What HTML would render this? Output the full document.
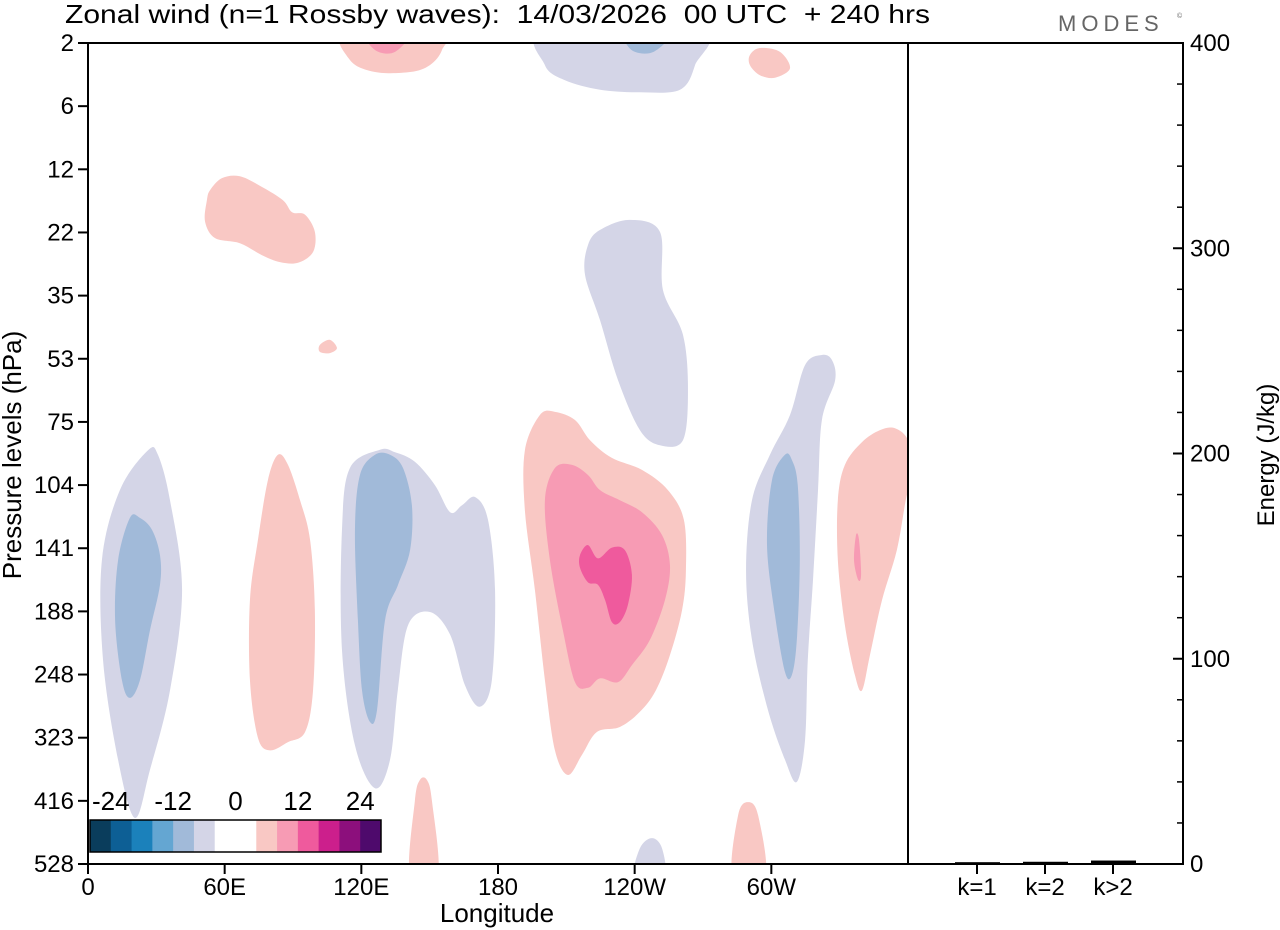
<!DOCTYPE html>
<html><head><meta charset="utf-8"><style>
html,body{margin:0;padding:0;background:#fff;}
svg{display:block;font-family:"Liberation Sans",Arial,sans-serif;}
text{white-space:pre;}
</style></head><body>
<svg id="chart" width="1280" height="930" viewBox="0 0 1280 930">
<defs><clipPath id="plotclip"><rect x="88" y="43" width="820" height="821"/></clipPath></defs>
<text x="65" y="23" font-size="26" textLength="865" lengthAdjust="spacingAndGlyphs" xml:space="preserve">Zonal wind (n=1 Rossby waves):  14/03/2026  00 UTC  + 240 hrs</text>
<text x="1058" y="31" font-size="22" fill="#666" letter-spacing="5">MODES</text>
<text x="1177" y="18" font-size="7" fill="#666">©</text>
<g id="field" clip-path="url(#plotclip)"></g>
<g id="axes"></g>
<g id="cbar"></g>
<g id="energy"></g>
</svg>
<script>
const levels=["2","6","12","22","35","53","75","104","141","188","248","323","416","528"];
const lonTicks=[0,60,120,180,240,300];
const lonLabels=["0","60E","120E","180","120W","60W"];
const energyCats=["k=1","k=2","k>2"];
const energyVals=[0.4,0.6,1.2];
const energyTicks=[0,100,200,300,400];
const cbarColors=["#0a3d5c","#0d5f95","#1b81bb","#64a6d2","#a1bad9","#d4d5e7","#ffffff","#ffffff","#f9c8c4","#f79bb4","#ef5a9d","#cc1f8c","#8c0f7c","#4e0a6c"];
const cbarLabels=["-24","-12","0","12","24"];
const lavender="#d4d5e7",blue="#a1bad9",pink1="#f9c8c4",pink2="#f79bb4",pink3="#ef5a9d";
const blobs=[
[lavender,[[26.3,6.45],[14,7.08],[6.1,8.19],[6.6,9.77],[13.2,11.35],[20.6,12.27],[27.2,11.51],[36,10.25],[41.3,8.66],[36,7.24],[30.7,6.52]]],
[lavender,[[128.2,6.44],[115,6.73],[111.5,7.71],[111.5,9.61],[117.2,11.12],[126,11.8],[132.6,11.35],[136,10.25],[140.5,9.22],[150.1,9.01],[159,9.37],[165.5,10.17],[172,10.51],[177.3,10.09],[178.7,8.66],[175.6,7.55],[170,7.19],[164.2,7.32],[159,7.43],[152.3,7.0],[143.5,6.63],[134.8,6.48]]],
[lavender,[[224.8,2.96],[237.9,2.8],[251.1,2.99],[252.4,3.91],[261.2,4.62],[263.4,5.49],[261.2,6.29],[251.1,6.37],[242.3,6.13],[232.7,5.34],[224.8,4.39],[218.2,3.67],[219.5,3.2]]],
[lavender,[[322.2,4.94],[314.8,5.1],[308.2,5.89],[299.4,6.52],[291.5,7.24],[288.9,8.35],[291.5,9.45],[298.5,10.56],[306,11.35],[311.2,11.7],[314.8,11.04],[316,9.77],[318.3,8.5],[320.5,7.08],[322.2,5.97],[328,5.34],[326.6,5.02]]],
[lavender,[[201,-0.2],[200.6,0.35],[209.4,0.59],[224.8,0.74],[242.3,0.78],[259.9,0.74],[266.5,0.35],[268.7,-0.2]]],
[lavender,[[240.1,13.2],[242.3,12.75],[247.6,12.59],[252,12.75],[252.8,13.2]]],
[blue,[[18.4,7.52],[13.2,8.19],[11.9,9.14],[14.9,10.09],[18.4,10.37],[22.8,10.09],[27.2,9.3],[31.6,8.58],[31.6,8.11],[28.1,7.71],[22.8,7.52]]],
[blue,[[126,6.52],[119.4,6.84],[117.2,7.71],[118.5,9.14],[120.3,10.25],[123.8,10.75],[126.9,10.56],[130.4,9.14],[136.1,8.58],[141.4,8.03],[142.2,7.32],[138.3,6.73],[132.6,6.52]]],
[blue,[[235.9,-0.2],[238.6,0.11],[248.3,0.14],[256.2,-0.2]]],
[blue,[[306,6.52],[300.3,6.92],[298.1,7.95],[301.6,9.06],[306,9.96],[309,10.01],[311.2,9.45],[312.5,8.19],[311.6,7.0],[309,6.6]]],
[pink1,[[112.8,-0.2],[115,0.27],[126,0.46],[141.4,0.46],[150.1,0.35],[155.4,0.11],[155.4,-0.2]]],
[pink2,[[121.6,-0.2],[126,0.11],[134.8,0.14],[141.4,-0.2]]],
[pink1,[[53.6,2.33],[58.8,2.14],[66.7,2.11],[76.4,2.28],[85.6,2.49],[89.6,2.68],[95.3,2.72],[99.6,2.99],[98.8,3.31],[92.2,3.48],[84.3,3.47],[76.4,3.36],[66.7,3.17],[55.8,3.09],[51.4,2.83],[52.2,2.49]]],
[pink1,[[101.8,4.78],[106.2,4.7],[109.3,4.83],[106.2,4.91],[101.8,4.89]]],
[pink1,[[290.6,0.19],[295,0.08],[303.8,0.14],[308.2,0.4],[301.6,0.55],[295,0.51],[290.6,0.35]]],
[pink1,[[83.4,6.52],[79,6.92],[74.6,7.87],[71.1,8.82],[71.1,10.09],[74.6,11.0],[79.9,11.2],[87.8,11.07],[95.3,10.91],[98.8,10.25],[99.6,8.98],[97.5,7.87],[93.1,7.24],[87.8,6.68]]],
[pink1,[[198.4,5.89],[191.8,6.45],[191.8,7.4],[196.2,8.66],[200.6,10.09],[205,11.2],[210.7,11.59],[216.9,11.27],[223.4,10.91],[233.5,10.83],[242.3,10.59],[249.3,10.25],[255.5,9.69],[260.8,8.98],[262.5,8.35],[261.6,7.55],[254.6,7.08],[243.2,6.76],[230,6.57],[220.4,6.29],[213.8,5.97],[205,5.84]]],
[pink1,[[347.7,6.13],[339.8,6.32],[332.3,6.68],[329.2,7.24],[329.2,8.19],[332.3,9.22],[336.7,10.01],[339.8,10.25],[343.3,9.69],[348.6,8.82],[355.1,8.03],[359,7.24],[362,6.76],[360,6.29],[354.3,6.1]]],
[pink1,[[141.4,13.2],[143.5,12.0],[145.7,11.67],[148.8,11.67],[151,12.0],[153.6,13.2]]],
[pink1,[[283.1,13.2],[285.4,12.23],[289.8,12.02],[294.2,12.23],[297.3,13.2]]],
[pink2,[[205,6.73],[200.6,7.24],[202.8,8.19],[208.5,9.3],[213.8,10.12],[219.5,10.21],[224.8,10.06],[232.7,10.12],[238.8,9.85],[246.7,9.45],[253.3,8.82],[255.5,8.27],[252,7.79],[243.2,7.43],[233.5,7.24],[224.8,7.08],[219.5,6.84],[212.5,6.68]]],
[pink3,[[216,8.11],[219.5,7.95],[223.9,8.16],[230,7.99],[235.7,8.03],[238.8,8.42],[237,8.9],[233.5,9.17],[230,9.17],[227,8.82],[223.9,8.58],[219.5,8.54],[216,8.31]]],
[pink2,[[337.2,7.79],[338.5,7.87],[339.4,8.42],[338.1,8.5],[336.3,8.19]]]
];
const X0=88,X1=908,Y0=43,Y1=864;
const xLon=l=>X0+l*(X1-X0)/360;
const yLev=i=>Y0+i*(Y1-Y0)/(levels.length-1);
const EX0=908,EX1=1183;
const yE=v=>Y1-v*(Y1-Y0)/400;
const NS="http://www.w3.org/2000/svg";
function mk(t,a,p){const e=document.createElementNS(NS,t);for(const k in a)e.setAttribute(k,a[k]);p.appendChild(e);return e;}
function smooth(pts){const n=pts.length;let d=`M${pts[0][0]},${pts[0][1]}`;
for(let i=0;i<n;i++){const p0=pts[(i-1+n)%n],p1=pts[i],p2=pts[(i+1)%n],p3=pts[(i+2)%n];
const c1=[p1[0]+(p2[0]-p0[0])/6,p1[1]+(p2[1]-p0[1])/6],c2=[p2[0]-(p3[0]-p1[0])/6,p2[1]-(p3[1]-p1[1])/6];
d+=`C${c1[0]},${c1[1]} ${c2[0]},${c2[1]} ${p2[0]},${p2[1]}`;}return d+"Z";}
const field=document.getElementById('field');
blobs.forEach((b,i)=>{const pts=b[1].map(p=>[xLon(p[0]),yLev(p[1])]);
const e=mk('path',{d:smooth(pts),fill:b[0]},field);

});
const ax=document.getElementById('axes');
mk('rect',{x:X0,y:Y0,width:EX1-X0,height:Y1-Y0,fill:'none',stroke:'#000','stroke-width':2},ax);
mk('line',{x1:X1,y1:Y0,x2:X1,y2:Y1,stroke:'#000','stroke-width':2},ax);
levels.forEach((l,i)=>{const y=yLev(i);mk('line',{x1:X0-10,y1:y,x2:X0,y2:y,stroke:'#000','stroke-width':2},ax);
const t=mk('text',{x:X0-14,y:y+8,'font-size':24,'text-anchor':'end'},ax);t.textContent=l;

});
lonTicks.forEach((l,i)=>{const x=xLon(l);mk('line',{x1:x,y1:Y1,x2:x,y2:Y1+10,stroke:'#000','stroke-width':2},ax);
const t=mk('text',{x:x,y:Y1+31,'font-size':24,'text-anchor':'middle'},ax);t.textContent=lonLabels[i];

});
let t=mk('text',{x:497,y:922,'font-size':26,'text-anchor':'middle'},ax);t.textContent='Longitude';


t=mk('text',{x:0,y:0,'font-size':26,'text-anchor':'middle',transform:'translate(21,455) rotate(-90)'},ax);t.textContent='Pressure levels (hPa)';


t=mk('text',{x:0,y:0,'font-size':24,'text-anchor':'middle',transform:'translate(1274,455) rotate(-90)'},ax);t.textContent='Energy (J/kg)';


for(let v=0;v<=400;v+=20){const y=yE(v);const major=v%100===0;
mk('line',{x1:EX1-(major?10:6),y1:y,x2:EX1,y2:y,stroke:'#000','stroke-width':major?2:1.5},ax);}
energyTicks.forEach(v=>{const t=mk('text',{x:EX1+7,y:yE(v)+8,'font-size':24},ax);t.textContent=v;

});
const eg=document.getElementById('energy');
const catX=i=>977+i*68;
energyCats.forEach((c,i)=>{const x=catX(i);
mk('line',{x1:x,y1:Y1,x2:x,y2:Y1+10,stroke:'#000','stroke-width':2},eg);
const b=mk('rect',{x:x-22,y:yE(energyVals[i])-1,width:45,height:Y1-yE(energyVals[i])+1,fill:'#000'},eg);


const t=mk('text',{x:x,y:Y1+31,'font-size':24,'text-anchor':'middle'},eg);t.textContent=c;

});
const cb=document.getElementById('cbar');
const bw=(381-90)/cbarColors.length;
cbarColors.forEach((c,i)=>{const r=mk('rect',{x:90+i*bw,y:820,width:bw+0.5,height:32,fill:c},cb);

});
mk('rect',{x:90,y:820,width:291,height:32,fill:'none',stroke:'#000','stroke-width':1.5},cb);
cbarLabels.forEach((l,i)=>{const t=mk('text',{x:90+(1+3*i)*bw,y:810,'font-size':26,'text-anchor':'middle'},cb);t.textContent=l;

});
</script>
</body></html>
